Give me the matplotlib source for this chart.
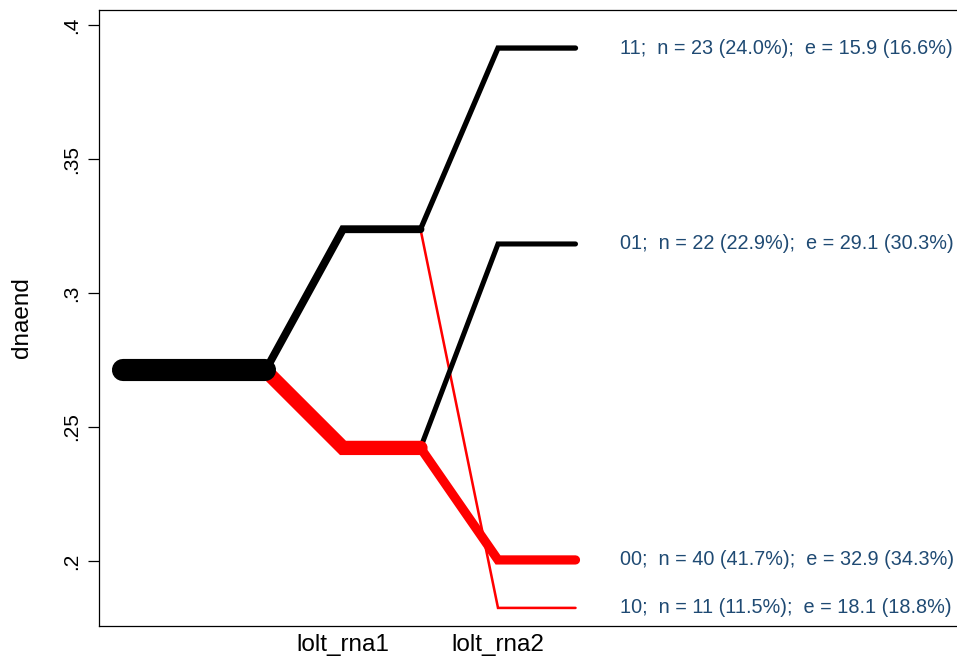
import matplotlib
matplotlib.use("Agg")
import matplotlib.pyplot as plt

plt.rcParams['font.family'] = ['Liberation Sans', 'DejaVu Sans']

# Sequence tree: mean of dnaend by lolt_rna1 / lolt_rna2 status
stages = ["lolt_rna1", "lolt_rna2"]
root_mean = 0.2711
root_n = 96

stage1_codes = ["1", "0"]
stage1_means = [0.3238, 0.2422]
stage1_n = [34, 62]

stage2_codes = ["11", "10", "01", "00"]
stage2_parent = ["1", "1", "0", "0"]
stage2_means = [0.3914, 0.1825, 0.3183, 0.2004]
stage2_n = [23, 11, 22, 40]
stage2_pct = [24.0, 11.5, 22.9, 41.7]
stage2_e = [15.9, 18.1, 29.1, 32.9]
stage2_epct = [16.6, 18.8, 30.3, 34.3]

colors = {"1": "black", "0": "red"}
label_color = "#1f4a73"
width_per_obs = 0.166  # points of line width per observation

fig = plt.figure(figsize=(9.57, 6.56), dpi=100)
ax = fig.add_axes([99 / 957, 1 - 626 / 656, 1 - 99 / 957, (626 - 10) / 656])

line_kw = dict(solid_capstyle="round", solid_joinstyle="miter")

# stage 2 branches
for code, parent, m, n in zip(stage2_codes, stage2_parent, stage2_means, stage2_n):
    pm = stage1_means[stage1_codes.index(parent)]
    ax.plot([1.5, 2.0, 2.5], [pm, m, m], color=colors[code[-1]],
            lw=n * width_per_obs, zorder=2 if code[-1] == "0" else 3, **line_kw)

# stage 1 branches
for code, m, n in zip(stage1_codes, stage1_means, stage1_n):
    ax.plot([0.5, 1.0, 1.5], [root_mean, m, m], color=colors[code],
            lw=n * width_per_obs, zorder=4 if code == "0" else 5, **line_kw)

# root
ax.plot([-0.42, 0.5], [root_mean, root_mean], color="black",
        lw=root_n * width_per_obs, zorder=6, **line_kw)

# end-node labels
for code, m, n, p, e, ep in zip(stage2_codes, stage2_means, stage2_n,
                                stage2_pct, stage2_e, stage2_epct):
    ax.text(2.79, m, f"{code};  n = {n} ({p:.1f}%);  e = {e:.1f} ({ep:.1f}%)",
            color=label_color, fontsize=14.3, ha="left", va="center")

ax.set_xlim(-0.574, 4.961)
ax.set_ylim(0.17575, 0.4056)

ax.set_xticks([1, 2])
ax.set_xticklabels(stages, fontsize=17.5)
ax.tick_params(axis="x", length=0, pad=6)

yt = [0.2, 0.25, 0.3, 0.35, 0.4]
ax.set_yticks(yt)
ax.set_yticklabels([".2", ".25", ".3", ".35", ".4"], fontsize=15,
                   rotation=90, va="center")
ax.tick_params(axis="y", length=8, width=0.9, pad=5)

ax.set_ylabel("dnaend", fontsize=17.5, labelpad=21)

ax.spines["right"].set_visible(False)
for s in ("left", "top", "bottom"):
    ax.spines[s].set_linewidth(0.9)

fig.savefig("out.png", dpi=100)
